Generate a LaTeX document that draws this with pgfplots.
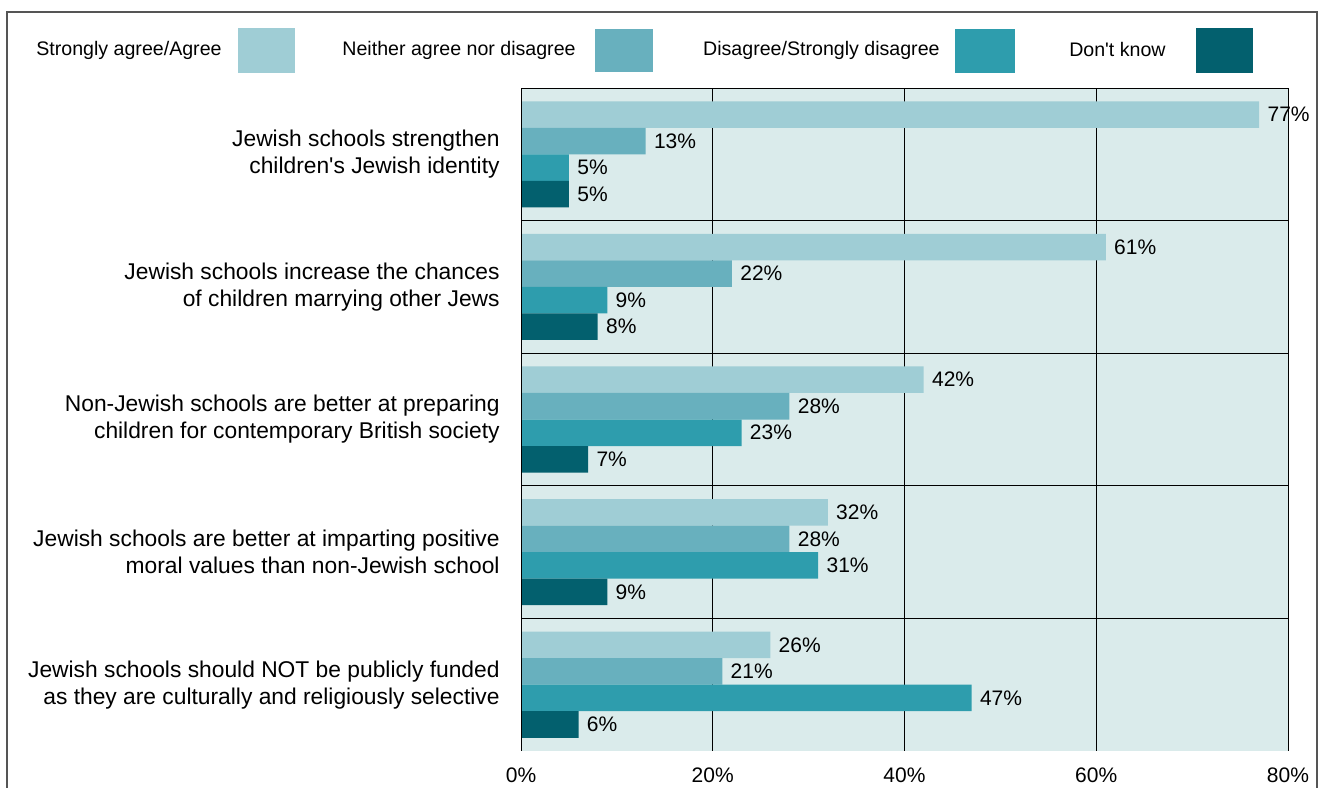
\documentclass[border=0pt]{standalone}
\usepackage{fontspec}
\setmainfont{Liberation Sans}
\usepackage{pgfplots}
\pgfplotsset{compat=1.18}
\definecolor{cagree}{HTML}{9FCDD5}
\definecolor{cneither}{HTML}{68B0BE}
\definecolor{cdisagree}{HTML}{2E9DAD}
\definecolor{cdk}{HTML}{03606E}
\definecolor{cbg}{HTML}{DAEBEB}
\definecolor{cframe}{HTML}{555555}

\newcommand{\labfont}{\fontsize{11.4}{13.5}\selectfont}
\newcommand{\valfont}{\fontsize{10.5}{12}\selectfont}
\newcommand{\legfont}{\fontsize{9.8}{12}\selectfont}

\begin{document}
\begin{tikzpicture}[x=0.5pt,y=0.5pt]
\useasboundingbox (0,0) rectangle (1321,787);
% outer frame (open at the bottom)
\draw[cframe, line width=0.6pt] (7,-5) -- (7,775) -- (1317,775) -- (1317,-5);

% legend
\node[anchor=east, inner sep=0pt, font=\legfont] at (222,737) {Strongly agree/Agree};
\fill[cagree] (238,714) rectangle (295,759);
\node[anchor=east, inner sep=0pt, font=\legfont] at (576,737) {Neither agree nor disagree};
\fill[cneither] (595,715) rectangle (653,758);
\node[anchor=east, inner sep=0pt, font=\legfont] at (940,737) {Disagree/Strongly disagree};
\fill[cdisagree] (955,714) rectangle (1015,758);
\node[anchor=east, inner sep=0pt, font=\legfont] at (1166,737) {Don\textquotesingle t know};
\fill[cdk] (1196,714) rectangle (1253,759);

\begin{axis}[
  at={(260.5pt,18pt)}, anchor=south west,
  scale only axis, width=383.5pt, height=331.5pt,
  /pgf/number format/assume math mode=true,
  xbar, bar width=0.2,
  xmin=0, xmax=80, ymin=-0.5, ymax=4.5, y dir=reverse,
  xtick={0,20,40,60,80},
  xticklabel={\pgfmathprintnumber{\tick}\%},
  xticklabel style={font=\valfont, inner sep=0pt, yshift=-8pt},
  ytick={0,1,2,3,4},
  yticklabels={
    {Jewish schools strengthen\\children\textquotesingle s Jewish identity},
    {Jewish schools increase the chances\\of children marrying other Jews},
    {Non-Jewish schools are better at preparing\\children for contemporary British society},
    {Jewish schools are better at imparting positive\\moral values than non-Jewish school},
    {Jewish schools should NOT be publicly funded\\as they are culturally and religiously selective}},
  yticklabel style={font=\labfont, align=right, inner sep=0pt, xshift=-10.5pt},
  minor ytick={0.5,1.5,2.5,3.5},
  xmajorgrids, yminorgrids,
  major grid style={black, line width=0.5pt},
  minor grid style={black, line width=0.5pt},
  major tick length=0pt, minor tick length=0pt,
  axis line style={draw=none},
  axis background/.style={fill=cbg},
  nodes near coords={\pgfmathprintnumber{\pgfplotspointmeta}\%},
  nodes near coords style={font=\valfont, inner sep=0pt, xshift=4pt, anchor=west, text=black},
  every axis plot/.append style={draw=none},
]
\addplot[fill=cagree, bar shift=-0.3] coordinates {(77,0) (61,1) (42,2) (32,3) (26,4)};
\addplot[fill=cneither, bar shift=-0.1] coordinates {(13,0) (22,1) (28,2) (28,3) (21,4)};
\addplot[fill=cdisagree, bar shift=0.1] coordinates {(5,0) (9,1) (23,2) (31,3) (47,4)};
\addplot[fill=cdk, bar shift=0.3] coordinates {(5,0) (8,1) (7,2) (9,3) (6,4)};
\draw[black, line width=0.6pt] (rel axis cs:0,0) -- (rel axis cs:0,1);
\draw[black, line width=0.8pt] (rel axis cs:0,1) -- (rel axis cs:1,1);
\end{axis}
\end{tikzpicture}
\end{document}
